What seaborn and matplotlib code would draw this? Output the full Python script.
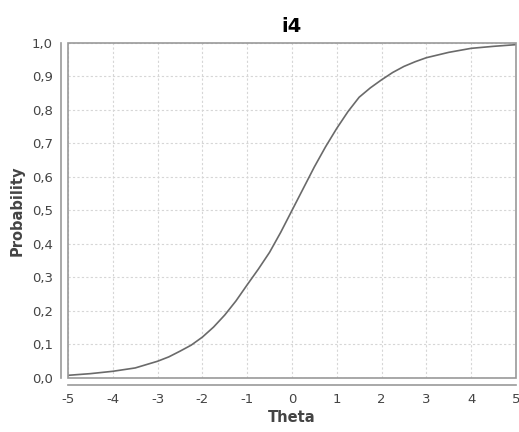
import matplotlib
matplotlib.use("Agg")
import matplotlib.pyplot as plt
import seaborn as sns
import pandas as pd
from matplotlib.patches import Rectangle

theta = [-5, -4.5, -4, -3.5, -3, -2.75, -2.5, -2.25, -2, -1.75, -1.5, -1.25, -1, -0.75,
         -0.5, -0.25, 0, 0.25, 0.5, 0.75, 1, 1.25, 1.5, 1.75, 2, 2.25, 2.5, 2.75, 3,
         3.5, 4, 4.5, 5]
probability = [0.008, 0.013, 0.020, 0.030, 0.050, 0.063, 0.080, 0.098, 0.122, 0.152,
               0.188, 0.230, 0.278, 0.325, 0.375, 0.435, 0.500, 0.565, 0.630, 0.690,
               0.745, 0.795, 0.838, 0.866, 0.890, 0.912, 0.930, 0.944, 0.956,
               0.972, 0.984, 0.990, 0.995]
xtick_values = [-5, -4, -3, -2, -1, 0, 1, 2, 3, 4, 5]
xtick_labels = ["-5", "-4", "-3", "-2", "-1", "0", "1", "2", "3", "4", "5"]
ytick_values = [0.0, 0.1, 0.2, 0.3, 0.4, 0.5, 0.6, 0.7, 0.8, 0.9, 1.0]
ytick_labels = ["0,0", "0,1", "0,2", "0,3", "0,4", "0,5", "0,6", "0,7", "0,8", "0,9", "1,0"]
title = "i4"
xlabel = "Theta"
ylabel = "Probability"

sns.set_style("white")
plt.rcParams["font.family"] = ["DejaVu Sans"]

df = pd.DataFrame({"Theta": theta, "Probability": probability})

fig = plt.figure(figsize=(5.19, 4.32), dpi=100)
ax = fig.add_axes([0.131, 0.125, 0.863, 0.7755])

sns.lineplot(data=df, x="Theta", y="Probability", ax=ax, color="#6a6a6a", linewidth=1.2)

ax.set_xlim(-5, 5)
ax.set_ylim(0, 1)
ax.set_xticks(xtick_values)
ax.set_xticklabels(xtick_labels)
ax.set_yticks(ytick_values)
ax.set_yticklabels(ytick_labels)

ax.grid(True, color="#d6d6d6", linestyle=(0, (2, 2)), linewidth=0.8)
ax.set_axisbelow(True)

for side in ["top", "right"]:
    ax.spines[side].set_visible(False)
for side in ["left", "bottom"]:
    ax.spines[side].set_position(("outward", 5))
    ax.spines[side].set_color("#999999")
    ax.spines[side].set_linewidth(1.2)

ax.add_patch(Rectangle((0, 0), 1, 1, transform=ax.transAxes, fill=False,
                       edgecolor="#999999", linewidth=1.2, clip_on=False, zorder=5))

ax.tick_params(axis="both", which="both", direction="out", length=3, width=0.8,
               color="#999999", labelcolor="#444444", labelsize=9.5, pad=3)

ax.set_xlabel(xlabel, fontsize=10.5, color="#444444", fontweight="bold", labelpad=3)
ax.set_ylabel(ylabel, fontsize=10.5, color="#444444", fontweight="bold", labelpad=5)
ax.set_title(title, fontsize=14, fontweight="bold", color="black", pad=8)

fig.savefig("out.png", dpi=100)
